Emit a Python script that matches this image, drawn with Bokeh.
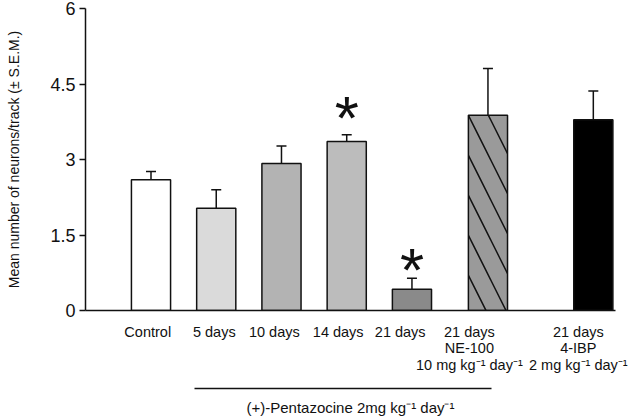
from bokeh.plotting import figure
from bokeh.models import (ColumnDataSource, Whisker, TeeHead, LinearAxis,
                          FixedTicker, Range1d)
from bokeh.core.properties import value
from bokeh.embed import file_html
from bokeh.resources import INLINE

# ---- data ----
groups = ["Control", "5 days", "10 days", "14 days", "21 days",
          "21 days NE-100", "21 days 4-IBP"]
means = [2.60, 2.03, 2.92, 3.36, 0.42, 3.88, 3.79]
sems = [0.16, 0.37, 0.35, 0.13, 0.22, 0.93, 0.57]
significant = [False, False, False, True, True, False, False]
y_ticks = [0, 1.5, 3, 4.5, 6]

# text under each bar
category_labels = [
    "Control", "5 days", "10 days", "14 days", "21 days",
    "21 days\nNE-100\n10 mg kg\u207b\u00b9 day\u207b\u00b9",
    "21 days\n4-IBP\n2 mg kg\u207b\u00b9 day\u207b\u00b9",
]
treatment_label = "(+)-Pentazocine 2mg kg\u207b\u00b9 day\u207b\u00b9"

# ---- layout (positions / styles) ----
xpos = [0, 1, 2, 3, 4, 5.165, 6.78]
label_x = [-0.05, 0.97, 1.89, 2.87, 3.82, 4.88, 6.55]
treatment_span = (0.667, 5.218)
star_offsets = [0, 0, 0, -17, -9, 0, 0]
fills = ["#ffffff", "#dadada", "#b3b3b3", "#bcbcbc", "#8a8a8a", "#9a9a9a", "#000000"]
hatches = [" ", " ", " ", " ", " ", "\\", " "]
INK = "#111111"
FONT = "Liberation Sans"

src = ColumnDataSource(dict(
    x=xpos, top=means, upper=[m + s for m, s in zip(means, sems)],
    fill=fills, hatch=hatches, name=groups,
))

p = figure(frame_width=530, frame_height=302, output_backend="svg",
           toolbar_location=None,
           x_range=Range1d(-1.004, 7.12), y_range=Range1d(0, 6),
           x_axis_location=None,
           min_border_left=85, min_border_right=25, min_border_top=8,
           min_border_bottom=0)
p.outline_line_color = None
p.grid.visible = False

p.vbar(x="x", top="top", width=0.6, source=src, fill_color="fill",
       line_color=INK, line_width=1.5, hatch_pattern="hatch",
       hatch_color=INK, hatch_scale=40, hatch_weight=1.5)

p.add_layout(Whisker(source=src, base="x", lower="top", upper="upper",
                     dimension="height", line_color=INK, line_width=1.5,
                     upper_head=TeeHead(size=10, line_color=INK, line_width=1.5),
                     lower_head=None))

# significance stars
sx = [x for x, s in zip(xpos, significant) if s]
sy = [m + e for m, e, s in zip(means, sems, significant) if s]
so = [o for o, s in zip(star_offsets, significant) if s]
p.text(x=sx, y=sy, y_offset=so, text=["*"] * len(sx), text_font=value(FONT),
       text_font_size="62px", text_align="center", text_baseline="middle",
       text_color=INK)

# y axis
ya = p.yaxis[0]
ya.ticker = FixedTicker(ticks=y_ticks)
ya.major_label_overrides = {0: "0", 1.5: "1.5", 3: "3", 4.5: "4.5", 6: "6"}
ya.major_label_text_font = FONT
ya.major_label_text_font_size = "18px"
ya.major_label_text_color = INK
ya.major_tick_out = 6
ya.major_tick_in = 0
ya.minor_tick_line_color = None
ya.axis_line_width = 1.5
ya.axis_line_color = INK
ya.major_tick_line_width = 1.5
ya.major_tick_line_color = INK
ya.major_label_standoff = 4
ya.axis_label = "Mean number of neurons/track (\u00b1 S.E.M.)"
ya.axis_label_text_font = FONT
ya.axis_label_text_font_size = "14px"
ya.axis_label_text_font_style = "normal"
ya.axis_label_text_color = INK
ya.axis_label_standoff = 25

# x axis: baseline + category labels
xa = LinearAxis(ticker=FixedTicker(ticks=label_x),
                major_label_overrides={lx: t for lx, t in zip(label_x, category_labels)})
xa.major_tick_line_color = None
xa.major_tick_out = 0
xa.major_tick_in = 0
xa.minor_tick_line_color = None
xa.axis_line_width = 1.5
xa.axis_line_color = INK
xa.major_label_standoff = 13
xa.major_label_text_font = FONT
xa.major_label_text_font_size = "14.5px"
xa.major_label_text_color = INK
xa.major_label_text_line_height = 1.05
xa.axis_label = " "
xa.axis_label_standoff = 0
xa.axis_label_text_font_size = "8px"
p.add_layout(xa, "below")

# treatment line + label
ta = LinearAxis(ticker=FixedTicker(ticks=[]), bounds=treatment_span)
ta.major_tick_line_color = None
ta.minor_tick_line_color = None
ta.major_label_text_color = None
ta.axis_line_width = 1.5
ta.axis_line_color = INK
ta.axis_label = treatment_label
ta.axis_label_text_font = FONT
ta.axis_label_text_font_size = "15px"
ta.axis_label_text_font_style = "normal"
ta.axis_label_text_color = INK
ta.axis_label_standoff = 10
p.add_layout(ta, "below")

open("out.html", "w").write(file_html(p, INLINE))
